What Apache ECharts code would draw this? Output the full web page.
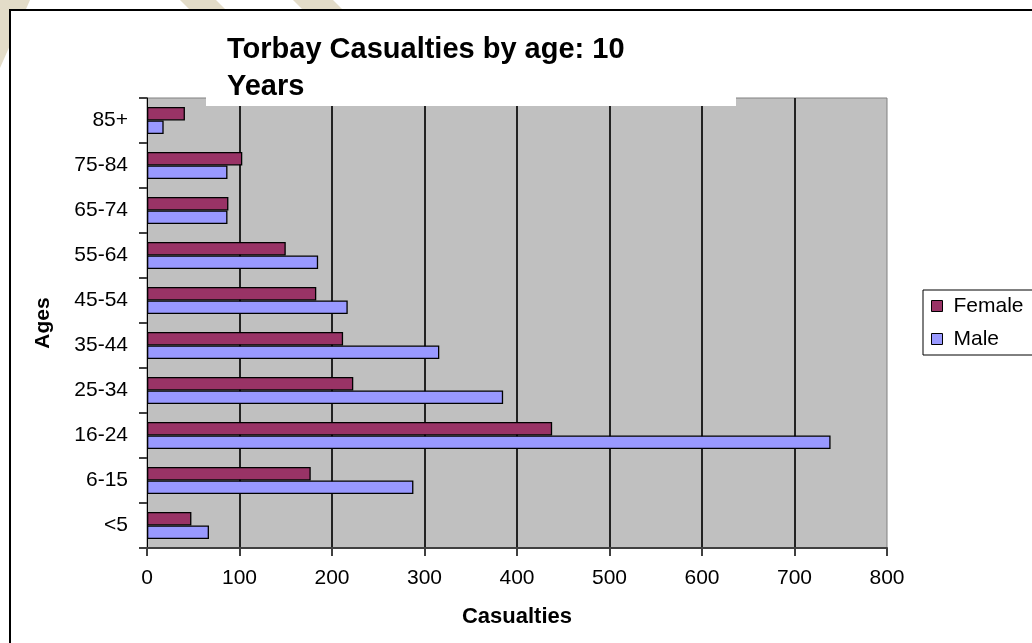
<!DOCTYPE html>
<html>
<head>
<meta charset="utf-8">
<script src="https://cdn.jsdelivr.net/npm/echarts@6/dist/echarts.min.js"></script>
<style>
html,body{margin:0;padding:0;background:#fff;}
#chart{width:1032px;height:643px;}
</style>
</head>
<body>
<div id="chart"></div>
<script>
var categories = ['<5', '6-15', '16-24', '25-34', '35-44', '45-54', '55-64', '65-74', '75-84', '85+'];
var femaleValues = [48, 177, 438, 223, 212, 183, 150, 88, 103, 41];
var maleValues = [67, 288, 739, 385, 316, 217, 185, 87, 87, 18];
var xTicks = { min: 0, max: 800, interval: 100 };

var FONT = '"Liberation Sans", Arial, sans-serif';
var chart = echarts.init(document.getElementById('chart'), null, { renderer: 'canvas' });

var option = {
  animation: false,
  backgroundColor: '#ffffff',
  graphic: [
    { type: 'polygon', z: -10, shape: { points: [[0,0],[30,0],[0,68]] }, style: { fill: '#E3DCC8' } },
    { type: 'polygon', z: -10, shape: { points: [[180,0],[216,0],[230,14],[194,14]] }, style: { fill: '#E3DCC8' } },
    { type: 'polygon', z: -10, shape: { points: [[293,0],[333,0],[347,14],[307,14]] }, style: { fill: '#E3DCC8' } },
    { type: 'rect', z: -5, shape: { x: 10, y: 10, width: 1100, height: 1000 }, style: { fill: '#ffffff', stroke: '#000000', lineWidth: 2 } },
    { type: 'rect', z: 50, shape: { x: 206, y: 88, width: 530, height: 18 }, style: { fill: '#ffffff' } }
  ],
  title: {
    text: 'Torbay Casualties by age: 10\nYears',
    left: 227,
    top: 31,
    z: 60,
    padding: 0,
    textStyle: { fontFamily: FONT, fontSize: 29, fontWeight: 'bold', color: '#000', lineHeight: 37 }
  },
  legend: {
    data: ['Female', 'Male'],
    orient: 'vertical',
    left: 923,
    top: 290,
    borderColor: '#000',
    borderWidth: 1,
    borderRadius: 0,
    padding: [5, 12, 5, 8],
    itemWidth: 11,
    itemHeight: 11,
    itemGap: 11,
    icon: 'rect',
    itemStyle: { borderColor: '#000', borderWidth: 1 },
    textStyle: { fontFamily: FONT, fontSize: 21, color: '#000', lineHeight: 22, padding: [0, 0, 0, 6] }
  },
  grid: {
    left: 147, right: 145, top: 98, bottom: 95,
    show: true, backgroundColor: '#C0C0C0', borderColor: '#808080', borderWidth: 1,
    containLabel: false
  },
  xAxis: {
    type: 'value',
    min: xTicks.min, max: xTicks.max, interval: xTicks.interval,
    name: 'Casualties',
    nameLocation: 'middle',
    nameGap: 58,
    nameTextStyle: { fontFamily: FONT, fontSize: 22, fontWeight: 'bold', color: '#000' },
    axisLine: { show: true, lineStyle: { color: '#404040', width: 2 } },
    axisTick: { show: true, length: 8, lineStyle: { color: '#404040', width: 2 } },
    axisLabel: { fontFamily: FONT, fontSize: 21, color: '#000', margin: 20 },
    splitLine: { show: true, showMinLine: false, showMaxLine: false, lineStyle: { color: '#222', width: 2 } }
  },
  yAxis: {
    type: 'category',
    data: categories,
    name: 'Ages',
    nameLocation: 'middle',
    nameGap: 93,
    nameRotate: 90,
    nameTextStyle: { fontFamily: FONT, fontSize: 21, fontWeight: 'bold', color: '#000' },
    axisLine: { show: true, lineStyle: { color: '#000', width: 1 } },
    axisTick: { show: true, length: 8, alignWithLabel: false, lineStyle: { color: '#404040', width: 2 } },
    axisLabel: { fontFamily: FONT, fontSize: 21, color: '#000', margin: 19 },
    splitLine: { show: false }
  },
  series: [
    {
      name: 'Female', type: 'bar', data: femaleValues,
      barGap: '0%', barCategoryGap: '40%',
      itemStyle: { color: '#993366', borderColor: '#000', borderWidth: 1.3 }
    },
    {
      name: 'Male', type: 'bar', data: maleValues,
      barGap: '0%', barCategoryGap: '40%',
      itemStyle: { color: '#9999FF', borderColor: '#000', borderWidth: 1.3 }
    }
  ]
};
chart.setOption(option);
</script>
</body>
</html>
